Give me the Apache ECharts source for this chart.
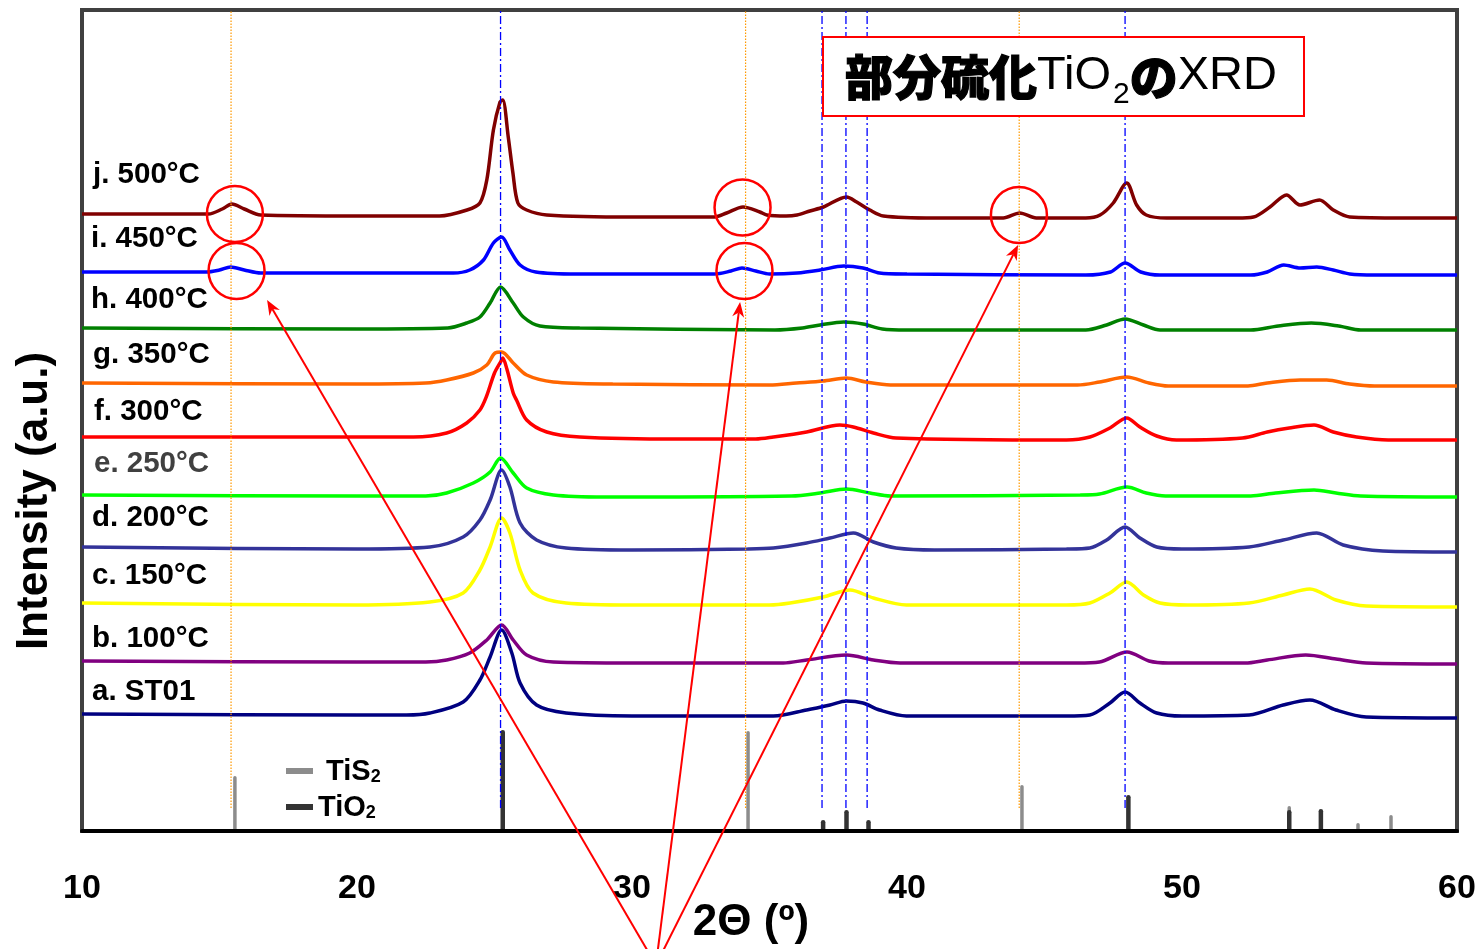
<!DOCTYPE html>
<html><head><meta charset="utf-8">
<script src="https://cdn.jsdelivr.net/npm/echarts@6/dist/echarts.min.js"></script>
<style>html,body{margin:0;padding:0;background:#fff}#c{width:1482px;height:949px}</style>
</head><body><div id="c"></div><script>
// ---------------- data (2θ in degrees, intensity in a.u., offsets included) ----------------
const xTicks = [10, 20, 30, 40, 50, 60];
const sampleNames = ['j. 500°C','i. 450°C','h. 400°C','g. 350°C','f. 300°C','e. 250°C','d. 200°C','c. 150°C','b. 100°C','a. ST01'];

const curveJ500 = [[10,617],[13,617],[14.6,617],[15.1,622],[15.45,627],[15.9,622],[16.5,616],[20,615],[23,615],[24.0,621],[24.47,628],[24.72,651],[24.96,701],[25.2,729],[25.3,731],[25.5,694],[25.67,658],[25.85,628],[26.17,621],[26.9,616],[30,614],[33.0,614],[33.44,618],[34.04,624],[34.65,619],[34.9,616],[35.6,615],[36.0,616],[36.47,620],[36.96,624],[37.8,634],[38.17,629],[38.65,621],[39.14,615],[41,613],[43.5,613],[44.1,618],[44.7,613],[46.5,613],[47.02,616],[47.5,628],[47.99,648],[48.35,626],[48.7,616],[49.44,613],[52,613],[52.6,614],[53.2,624],[53.8,636],[54.29,626],[55.0,631],[55.5,621],[56.1,614],[58,613],[60,613]];
const curveI450 = [[10,559],[14.5,559],[15.0,561],[15.4,564],[15.9,561],[16.5,558],[20,558],[23.5,558],[24.1,561],[24.6,571],[24.96,588],[25.26,594],[25.56,581],[25.93,566],[26.5,559],[28,557],[33,557],[33.6,560],[34.0,563],[34.5,560],[35,557],[36.0,558],[36.84,561],[37.7,565],[38.4,563],[39.0,558],[40,557],[46.5,556],[47.4,559],[47.93,568],[48.5,559],[49.2,556],[52.5,556],[53.1,559],[53.7,566],[54.3,563],[54.9,564],[55.5,561],[56.1,557],[57,556],[60,556]];
const curveH400 = [[10,503],[20,502],[23.3,503],[23.99,508],[24.47,514],[24.84,528],[25.22,544],[25.68,528],[26.05,514],[26.65,505],[28.1,503],[35.2,501],[36.2,503],[36.84,506],[37.7,509],[38.4,507],[39.1,502],[40,501],[46.5,501],[47.26,506],[47.93,512],[48.6,506],[49.2,501],[52.5,501],[53.5,505],[54.7,508],[55.7,505],[56.5,501],[60,501]];
const curveG350 = [[10,448],[20,447],[22.5,448],[23.26,451],[24.23,458],[24.72,466],[25.02,478],[25.26,479],[25.68,468],[26.17,456],[27.14,449],[29.3,447],[35.0,446],[35.98,448],[36.95,450],[37.8,453],[38.5,449],[39.4,446],[46.2,446],[47.0,449],[47.99,454],[48.8,448],[49.5,445],[52.4,445],[53.1,448],[54.3,451],[55.26,451],[56.1,447],[57,445],[60,445]];
const curveF300 = [[10,394],[20,394],[22.05,394],[23.26,398],[23.99,408],[24.47,421],[24.7,434],[25.0,458],[25.22,469],[25.3,473],[25.45,462],[25.68,438],[25.8,431],[26.17,411],[26.9,399],[28.1,394],[31.7,392],[34.5,392],[35.14,394],[36.35,399],[37.56,406],[38.05,404],[38.78,398],[39.6,393],[45.8,391],[46.65,394],[47.38,403],[47.99,413],[48.47,404],[49.08,395],[49.8,391],[52.2,393],[53.1,399],[53.9,403],[54.8,406],[55.5,399],[56.35,394],[57.5,391],[60,391]];
const curveE250 = [[10,336],[20,335],[22.5,335],[23.26,338],[24.23,348],[24.84,359],[25.22,373],[25.68,358],[26.17,343],[27.14,336],[29,334],[35.8,335],[36.84,338],[37.8,342],[38.65,338],[39.4,335],[46.3,336],[47.0,337],[48.0,344],[48.7,338],[49.4,335],[52.5,335],[53.4,338],[54.8,341],[55.6,338],[56.5,335],[60,334]];
const curveD200 = [[10,284],[20,282],[22.65,284],[23.86,294],[24.47,311],[24.84,331],[25.26,361],[25.56,344],[25.93,308],[26.53,291],[27.6,283],[30,281],[34.2,282],[35.14,283],[36.35,288],[37.2,293],[38.05,298],[38.78,289],[39.6,283],[41,281],[45.8,282],[46.65,283],[47.26,291],[47.93,304],[48.47,293],[49.08,284],[50,282],[52.44,284],[53.68,291],[54.9,298],[55.86,286],[57.3,280],[60,279]];
const curveC150 = [[10,228],[20,226],[22.65,229],[23.86,238],[24.47,261],[24.84,284],[25.26,313],[25.56,298],[25.93,261],[26.4,238],[27.6,228],[30,226],[35.0,226],[35.75,228],[36.95,234],[37.93,241],[38.78,233],[39.98,226],[45.8,226],[46.65,228],[47.38,238],[47.99,249],[48.6,236],[49.2,228],[50.2,226],[52.44,228],[53.68,236],[54.65,242],[55.6,231],[56.7,225],[60,224]];
const curveB100 = [[10,170],[20,169],[22.5,169],[23.26,171],[24.1,178],[24.72,191],[25.26,206],[25.68,191],[26.17,176],[27.14,169],[30,168],[35.5,168],[36.35,171],[37.8,176],[38.78,171],[39.75,168],[46.2,168],[47.0,169],[48.0,179],[48.8,170],[49.5,168],[52.3,168],[53.1,171],[54.5,176],[55.6,172],[56.7,168],[60,167]];
const curveA01 = [[10,117],[20,116],[21.8,116],[22.65,118],[23.86,129],[24.47,151],[24.84,174],[25.26,201],[25.63,178],[25.93,148],[26.53,126],[27.6,118],[30,115],[34.2,115],[35.14,115],[36.35,121],[37.2,126],[37.8,130],[38.4,128],[39.0,121],[39.98,115],[45.8,115],[46.65,116],[47.38,128],[47.93,139],[48.47,128],[49.08,118],[50,115],[52.44,116],[53.68,126],[54.65,131],[55.6,121],[56.7,114],[60,113]];

// reference stick patterns [2θ, relative intensity]
const tis2Peaks = [[15.56,55],[34.22,100],[44.18,46],[53.9,25],[56.4,8],[57.6,16]];
const tio2Peaks = [[25.3,101],[36.95,11],[37.8,21],[38.6,11],[48.05,36],[53.9,21],[55.05,22]];
// guide lines (2θ)
const tis2Guides = [15.42, 34.13, 44.08];
const tio2Guides = [25.22, 36.91, 37.78, 38.55, 47.93];
const guideRange = [23, 821];
// annotations (data coordinates)
const circleMarks = [[15.56,617],[15.62,560],[34.02,623.5],[34.09,560],[44.07,616]];
const arrowTips = [[16.73,531],[33.93,529],[44.04,586]];
const arrowOrigin = [30.87,-134];

// ---------------- styles ----------------
const curves = [curveJ500,curveI450,curveH400,curveG350,curveF300,curveE250,curveD200,curveC150,curveB100,curveA01];
const curveColors = ['#800000','#0000FF','#008000','#FF6600','#FF0000','#00FF00','#333399','#FFFF00','#800080','#000080'];
const labelColors = ['#000','#000','#000','#000','#000','#404040','#000','#000','#000','#000'];
const labelPos = [[93,175],[91,239],[91,300],[93,355],[94,412],[94,464],[92,518],[92,576],[92,639],[92,692]];
const FONT = '"Liberation Sans", Arial, sans-serif';
const CJK = '"Noto Sans CJK JP", sans-serif';

const chart = echarts.init(document.getElementById('c'), null, {renderer:'canvas'});

function stickSeries(name, data, color, width){
  return {
    type:'custom', name, data, z:3, itemStyle:{color}, encode:{x:0,y:1},
    renderItem(params, api){
      const p0 = api.coord([api.value(0), 0]);
      const p1 = api.coord([api.value(0), api.value(1)]);
      return {type:'line', shape:{x1:p0[0], y1:p0[1]-2, x2:p1[0], y2:p1[1]+width/2},
        style:{stroke:color, lineWidth:width, lineCap:'round'}};
    }
  };
}
function guideSeries(vals, color, width, dash){
  return {
    type:'custom', silent:true, z:6, data: vals.map(v=>[v]), encode:{x:0},
    renderItem(params, api){
      const p0 = api.coord([api.value(0), guideRange[0]]);
      const p1 = api.coord([api.value(0), guideRange[1]]);
      return {type:'line', shape:{x1:p0[0], y1:p0[1], x2:p1[0], y2:p1[1]},
        style:{stroke:color, lineWidth:width, lineDash:dash}};
    }
  };
}

const series = [];
curves.forEach((d,i)=>{
  series.push({type:'line', name:sampleNames[i], data:d, showSymbol:false, smooth:0.3,
    lineStyle:{color:curveColors[i], width:3.5}, itemStyle:{color:curveColors[i]}, z:2, silent:true});
});
series.push(stickSeries('TiS2', tis2Peaks, '#8C8C8C', 3.5));
series.push(stickSeries('TiO2', tio2Peaks, '#333333', 4.5));
series.push(guideSeries(tis2Guides, '#FF9900', 1.2, [1.5,1.5]));
series.push(guideSeries(tio2Guides, '#0000FF', 1.3, [8,3,2,3]));

chart.setOption({
  animation:false,
  backgroundColor:'#fff',
  grid:{left:82, right:25, top:10, bottom:118, show:true, borderColor:'#404040', borderWidth:4, backgroundColor:'transparent'},
  xAxis:{type:'value', min:xTicks[0], max:xTicks[xTicks.length-1], interval:10, z:5,
    axisLine:{lineStyle:{color:'#000', width:4}}, axisTick:{show:false}, splitLine:{show:false},
    axisLabel:{margin:41, fontSize:34, fontWeight:'bold', color:'#000', fontFamily:FONT,
      formatter:v=> xTicks.includes(v) ? String(v) : ''}},
  yAxis:{type:'value', min:0, max:821, show:false},
  legend:{data:['TiS2','TiO2'], orient:'vertical', left:286, top:751, padding:0, itemWidth:27, itemHeight:6, itemGap:1, icon:'rect',
    selectedMode:false,
    formatter: n => n==='TiS2' ? '{m| TiS}{s|2}' : '{m|TiO}{s|2}',
    textStyle:{color:'#000', fontFamily:FONT, fontWeight:'bold', fontSize:29,
      rich:{m:{fontSize:29, fontWeight:'bold', fontFamily:FONT, color:'#000', lineHeight:30, padding:[6,0,0,0], verticalAlign:'bottom'},
            s:{fontSize:18, fontWeight:'bold', fontFamily:FONT, color:'#000', lineHeight:20, verticalAlign:'bottom'}}}},
  series
});

// ---------------- annotations / texts ----------------
const graphics = [];
graphics.push({type:'text', x:35, y:501, rotation:Math.PI/2, z:10,
  style:{text:'Intensity (a.u.)', fill:'#000', font:'bold 44px '+FONT, textAlign:'center', textVerticalAlign:'middle'}});
graphics.push({type:'text', x:751, y:923, z:10,
  style:{text:'2Θ (º)', fill:'#000', font:'bold 44px '+FONT, textAlign:'center', textVerticalAlign:'middle'}});
sampleNames.forEach((n,i)=>{
  graphics.push({type:'text', x:labelPos[i][0], y:labelPos[i][1], z:10,
    style:{text:n, fill:labelColors[i], font:'bold 29.5px '+FONT, textAlign:'left', textVerticalAlign:'middle'}});
});
graphics.push({type:'rect', shape:{x:823, y:37, width:481, height:79}, z:10,
  style:{fill:'#fff', stroke:'#FF0000', lineWidth:2}});
graphics.push({type:'text', x:845, y:53, z:11,
  style:{text:'{k|部分硫化}{r|TiO}{s|2}{k|の}{r|XRD}', textAlign:'left', textVerticalAlign:'top',
    rich:{
      k:{fontFamily:CJK, fontWeight:900, fontSize:48, lineHeight:46, verticalAlign:'top', fill:'#000', stroke:'#000', lineWidth:1.2},
      r:{fontFamily:FONT, fontSize:47, lineHeight:46, verticalAlign:'top', fill:'#000'},
      s:{fontFamily:FONT, fontSize:30, lineHeight:30, verticalAlign:'top', padding:[27,0,0,2], fill:'#000'}
    }}});
circleMarks.forEach(c=>{
  const p = chart.convertToPixel({gridIndex:0}, c);
  graphics.push({type:'circle', shape:{cx:p[0], cy:p[1], r:28}, z:12,
    style:{fill:'none', stroke:'#FF0000', lineWidth:2.5}});
});
const o = chart.convertToPixel({gridIndex:0}, arrowOrigin);
arrowTips.forEach(t=>{
  const p = chart.convertToPixel({gridIndex:0}, t);
  const dx = p[0]-o[0], dy = p[1]-o[1], L = Math.hypot(dx,dy);
  const ux = dx/L, uy = dy/L, nx = -uy, ny = ux;
  const hl = 15, hw = 6;
  graphics.push({type:'line', shape:{x1:o[0], y1:o[1], x2:p[0]-ux*hl*0.7, y2:p[1]-uy*hl*0.7}, z:12,
    style:{stroke:'#FF0000', lineWidth:2}});
  graphics.push({type:'polygon', z:12, shape:{points:[[p[0],p[1]],
    [p[0]-ux*hl+nx*hw, p[1]-uy*hl+ny*hw],[p[0]-ux*hl*0.7, p[1]-uy*hl*0.7],[p[0]-ux*hl-nx*hw, p[1]-uy*hl-ny*hw]]},
    style:{fill:'#FF0000'}});
});
chart.setOption({graphic:graphics});
</script></body></html>
